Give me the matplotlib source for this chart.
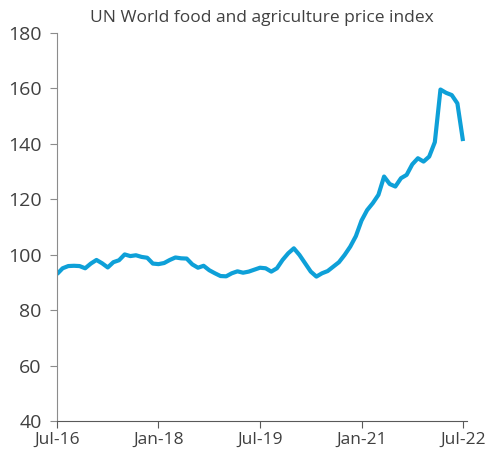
import matplotlib.pyplot as plt

# FAO food price index, monthly Jul-16 .. Jul-22
price_index = [
    93.0, 95.1, 95.9, 96.0, 95.9, 95.1,                        # 2016 H2
    96.8, 98.1, 96.9, 95.4, 97.3, 98.0,                        # 2017 H1
    100.1, 99.5, 99.8, 99.2, 98.9, 96.8,                       # 2017 H2
    96.6, 97.0, 98.1, 99.0, 98.7, 98.6,                        # 2018 H1
    96.5, 95.3, 96.0, 94.4, 93.3, 92.3,                        # 2018 H2
    92.2, 93.3, 94.0, 93.5, 93.9, 94.6, 95.3,                  # 2019 Jan-Jul
    95.1, 93.9, 95.1, 98.1, 100.5,                             # 2019 Aug-Dec
    102.3, 99.9, 96.9, 93.9, 92.1, 93.3,                       # 2020 H1
    94.1, 95.7, 97.3, 99.9, 102.9, 106.7,                      # 2020 H2
    112.3, 116.1, 118.6, 121.6, 128.2, 125.5,                  # 2021 H1
    124.6, 127.6, 128.8, 132.6, 134.8, 133.6,                  # 2021 H2
    135.4, 140.6, 159.6, 158.4, 157.6, 154.6, 141.0,           # 2022 Jan-Jul
]
months = list(range(len(price_index)))
tick_pos = [0, 18, 36, 54, 72]
tick_labels = ['Jul-16', 'Jan-18', 'Jul-19', 'Jan-21', 'Jul-22']

plt.rcParams['font.family'] = ['Open Sans', 'DejaVu Sans']

fig = plt.figure(figsize=(4.9, 4.58), dpi=100)
ax = fig.add_axes([0.1163, 0.0808, 0.8367, 0.8472])

ax.plot(months, price_index, color='#0ea0d8', lw=3, solid_capstyle='butt')

ax.set_xlim(0, 72.7)
ax.set_ylim(40, 180)
ax.set_yticks(range(40, 181, 20))
ax.set_xticks(tick_pos)
ax.set_xticklabels(tick_labels)

for side in ['top', 'right']:
    ax.spines[side].set_visible(False)
ax.spines['left'].set_color('#8c8c8c')
ax.spines['bottom'].set_color('#595959')
ax.tick_params(axis='y', length=5, color='#8c8c8c', labelsize=14,
               labelcolor='#404040', pad=6)
ax.tick_params(axis='x', length=5, color='#595959', labelsize=12.5,
               labelcolor='#404040', pad=3)

ax.set_title('UN World food and agriculture price index', fontsize=12.5,
             color='#404040', pad=8)

plt.savefig('out.png', dpi=100)
